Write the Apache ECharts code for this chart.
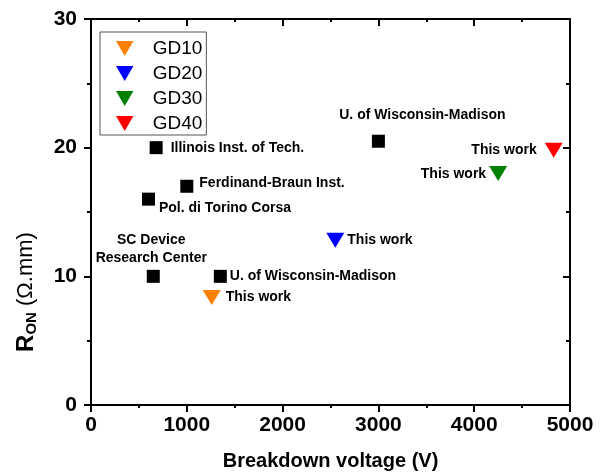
<!DOCTYPE html>
<html>
<head>
<meta charset="utf-8">
<script src="https://cdn.jsdelivr.net/npm/echarts@6/dist/echarts.min.js"></script>
<style>
  html, body { margin: 0; padding: 0; background: #fff; }
  #main { width: 605px; height: 472px; }
</style>
</head>
<body>
<div id="main"></div>
<script>
// reference devices (black squares)
const refNames = ['Illinois Inst. of Tech.', 'U. of Wisconsin-Madison', 'Ferdinand-Braun Inst.',
  'Pol. di Torino Corsa', 'SC Device\nResearch Center', 'U. of Wisconsin-Madison'];
const refVbr = [680, 3000, 1000, 600, 650, 1350];
const refRon = [20, 20.5, 17, 16, 10, 10];

// this work
const gdNames = ['GD10', 'GD20', 'GD30', 'GD40'];
const gdVbr = [1260, 2550, 4250, 4830];
const gdRon = [8.35, 12.8, 18, 19.8];
const gdColors = ['#ff8000', '#0000ff', '#008000', '#ff0000'];
const gdLabel = 'This work';

// axis ticks
const xTicks = [0, 1000, 2000, 3000, 4000, 5000];
const yTicks = [0, 10, 20, 30];

// label placement (layout only)
const refLabelPos = [
  { position: 'right', distance: 8, offset: [0, 0] },
  { position: 'top', distance: 5, offset: [44, -6] },
  { position: 'right', distance: 6, offset: [0, -3] },
  { position: 'right', distance: 0, offset: [4, 9] },
  { position: 'top', distance: 3, offset: [-2, 0] },
  { position: 'right', distance: 3, offset: [0, 0] }
];
const gdLabelPos = [
  { position: 'right', distance: 5, offset: [0, 0] },
  { position: 'right', distance: 3, offset: [0, 0] },
  { position: 'left', distance: 3, offset: [0, 1] },
  { position: 'left', distance: 8, offset: [0, 0] }
];

const triangle = 'path://M0,0L10,0L5,8.6Z';
const font = 'Liberation Sans, Arial, sans-serif';

const chart = echarts.init(document.getElementById('main'));

const baseAxis = {
  axisLine: { show: true, onZero: false, lineStyle: { color: '#000', width: 2 } },
  splitLine: { show: false }
};
const tickLabel = {
  fontFamily: font, fontWeight: 'bold', fontSize: 21, color: '#000',
  formatter: v => String(v)
};

const series = [{
  name: 'ref',
  type: 'scatter',
  symbol: 'rect',
  symbolSize: 13,
  itemStyle: { color: '#000', opacity: 1 },
  data: refVbr.map((v, i) => ({
    value: [v, refRon[i]],
    name: refNames[i],
    label: refLabelPos[i]
  })),
  label: {
    show: true,
    formatter: p => p.name,
    color: '#000',
    opacity: 1,
    fontFamily: font,
    fontWeight: 'bold',
    fontSize: 14,
    lineHeight: 18
  },
  z: 3
}];

gdNames.forEach((n, i) => {
  series.push({
    name: n,
    type: 'scatter',
    symbol: triangle,
    symbolSize: [18, 15],
    itemStyle: { color: gdColors[i], opacity: 1 },
    data: [{ value: [gdVbr[i], gdRon[i]], label: gdLabelPos[i] }],
    label: {
      show: true,
      formatter: gdLabel,
      color: '#000',
      opacity: 1,
      fontFamily: font,
      fontWeight: 'bold',
      fontSize: 14
    },
    z: 4
  });
});

const option = {
  backgroundColor: '#fff',
  animation: false,
  grid: { left: 91, right: 35, top: 19, bottom: 67, containLabel: false, outerBoundsMode: 'none' },
  legend: {
    data: gdNames.map(n => ({ name: n, icon: triangle })),
    orient: 'vertical',
    left: 100,
    top: 32,
    itemWidth: 18,
    itemHeight: 15,
    itemGap: 6,
    padding: [7, 4, 2, 16],
    borderColor: '#555',
    borderWidth: 1,
    borderRadius: 0,
    textStyle: { fontFamily: font, fontSize: 19, color: '#000', padding: [0, 0, 0, 14] }
  },
  xAxis: [{
    ...baseAxis,
    type: 'value',
    min: xTicks[0],
    max: xTicks[xTicks.length - 1],
    interval: xTicks[1] - xTicks[0],
    position: 'bottom',
    name: 'Breakdown voltage (V)',
    nameLocation: 'middle',
    nameGap: 46,
    nameTextStyle: { fontFamily: font, fontWeight: 'bold', fontSize: 20, color: '#000' },
    axisTick: { show: true, inside: false, length: 7, lineStyle: { color: '#000', width: 2 } },
    minorTick: { show: true, splitNumber: 2, length: 3, lineStyle: { color: '#000', width: 2 } },
    axisLabel: { ...tickLabel, margin: 10 }
  }, {
    ...baseAxis,
    type: 'value',
    min: xTicks[0],
    max: xTicks[xTicks.length - 1],
    interval: xTicks[1] - xTicks[0],
    position: 'top',
    axisTick: { show: true, inside: true, length: 7, lineStyle: { color: '#000', width: 2 } },
    minorTick: { show: true, splitNumber: 2, length: 3, lineStyle: { color: '#000', width: 2 } },
    axisLabel: { show: false }
  }],
  yAxis: [{
    ...baseAxis,
    type: 'value',
    min: yTicks[0],
    max: yTicks[yTicks.length - 1],
    interval: yTicks[1] - yTicks[0],
    position: 'left',
    name: '{r|R}{s|ON}{n| (Ω.mm)}',
    nameLocation: 'middle',
    nameRotate: 90,
    nameGap: 52,
    nameTextStyle: {
      padding: [0, 160, 0, 0],
      rich: {
        r: { fontFamily: font, fontWeight: 'bold', fontSize: 24, color: '#000' },
        s: { fontFamily: font, fontWeight: 'bold', fontSize: 15, color: '#000', padding: [11, 0, 0, 0] },
        n: { fontFamily: font, fontSize: 22, color: '#000' }
      }
    },
    axisTick: { show: true, inside: false, length: 7, lineStyle: { color: '#000', width: 2 } },
    minorTick: { show: true, splitNumber: 2, length: 4, lineStyle: { color: '#000', width: 2 } },
    axisLabel: { ...tickLabel, margin: 14 }
  }, {
    ...baseAxis,
    type: 'value',
    min: yTicks[0],
    max: yTicks[yTicks.length - 1],
    interval: yTicks[1] - yTicks[0],
    position: 'right',
    axisTick: { show: true, inside: true, length: 7, lineStyle: { color: '#000', width: 2 } },
    minorTick: { show: true, splitNumber: 2, length: 4, lineStyle: { color: '#000', width: 2 } },
    axisLabel: { show: false }
  }],
  series: series
};

chart.setOption(option);
</script>
</body>
</html>
